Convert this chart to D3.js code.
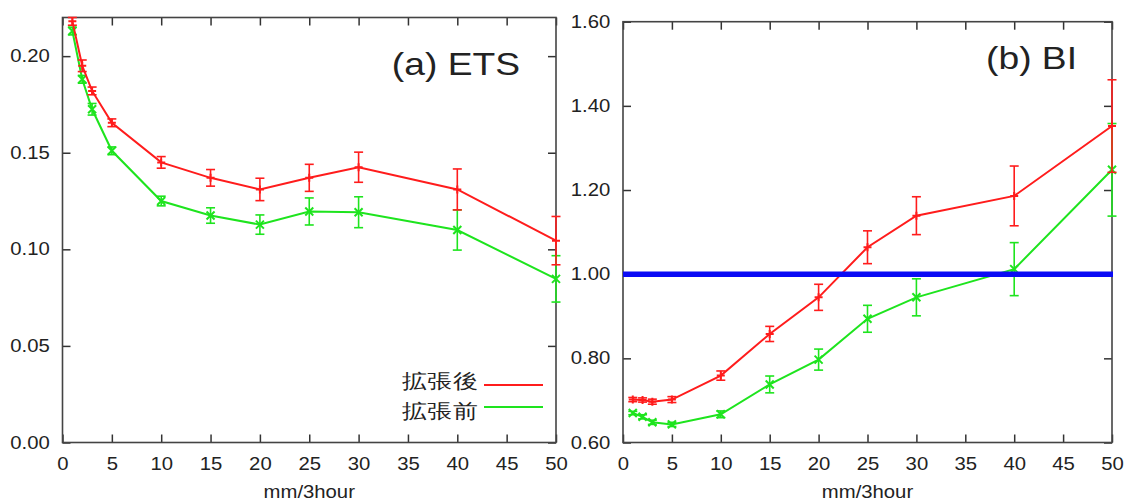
<!DOCTYPE html>
<html>
<head>
<meta charset="utf-8">
<script src="https://cdn.jsdelivr.net/npm/d3@7"></script>
<style>
  body { margin: 0; background: #fff; }
  text { font-family: "Liberation Sans", Arial, sans-serif; fill: #222; }
</style>
</head>
<body>
<div id="chart"></div>
<script>
// rain thresholds (mm/3hour)
var xValues = [1, 2, 3, 5, 10, 15, 20, 25, 30, 40, 50];

// (a) ETS
var etsAfter     = [0.218, 0.195, 0.182, 0.1655, 0.145, 0.137, 0.131, 0.137, 0.1425, 0.131, 0.1045];
var etsAfterErr  = [0.002, 0.003, 0.002, 0.002, 0.003, 0.0043, 0.0058, 0.007, 0.0078, 0.0106, 0.0125];
var etsBefore    = [0.213, 0.188, 0.1725, 0.151, 0.125, 0.1175, 0.1128, 0.1196, 0.1192, 0.110, 0.0847];
var etsBeforeErr = [0.002, 0.002, 0.003, 0.002, 0.0025, 0.004, 0.005, 0.007, 0.008, 0.0104, 0.012];

// (b) BI
var biAfter     = [0.702, 0.701, 0.697, 0.702, 0.759, 0.858, 0.945, 1.064, 1.139, 1.186, 1.352];
var biAfterErr  = [0.005, 0.005, 0.006, 0.007, 0.011, 0.018, 0.031, 0.039, 0.045, 0.071, 0.11];
var biBefore    = [0.670, 0.661, 0.648, 0.643, 0.667, 0.738, 0.797, 0.894, 0.945, 1.012, 1.248];
var biBeforeErr = [0.004, 0.005, 0.005, 0.005, 0.008, 0.02, 0.025, 0.032, 0.044, 0.063, 0.11];

var xTicks = [0, 5, 10, 15, 20, 25, 30, 35, 40, 45, 50];
var etsTicks = [0, 0.05, 0.10, 0.15, 0.20];
var biTicks = [0.6, 0.8, 1.0, 1.2, 1.4, 1.6];

var seriesNames = ['拡張後', '拡張前'];
var seriesColors = ['#ff1c1c', '#1ee41e'];
var xLabel = 'mm/3hour';

var STRETCH = 1.16; // the original picture is a bit wider than tall

var svg = d3.select('#chart').append('svg')
  .attr('width', 1131).attr('height', 502);

var panels = [
  { title: '(a) ETS', xr: [62.5, 556], yd: [0, 0.22], yr: [442.5, 17.5], ticks: etsTicks,
    series: [[etsAfter, etsAfterErr], [etsBefore, etsBeforeErr]],
    titlePos: [520, 75], refLine: null, legend: true },
  { title: '(b) BI', xr: [623, 1112], yd: [0.6, 1.6], yr: [442.5, 21.7], ticks: biTicks,
    series: [[biAfter, biAfterErr], [biBefore, biBeforeErr]],
    titlePos: [1077, 69], refLine: 1.0, legend: false }
];

var stretchText = function(sel, k) {
  sel.attr('transform', function() {
    var t = d3.select(this).attr('transform') || '';
    return t + ' scale(' + (k || STRETCH) + ',1)';
  });
};

panels.forEach(function(p) {
  var x = d3.scaleLinear().domain([0, 50]).range(p.xr),
      y = d3.scaleLinear().domain(p.yd).range(p.yr);
  var g = svg.append('g');

  // inward ticks on all four sides
  var bottom = g.append('g').attr('transform', 'translate(0,' + p.yr[0] + ')')
    .call(d3.axisBottom(x).tickValues(xTicks).tickSize(-8).tickSizeOuter(0).tickPadding(15).tickFormat(d3.format('d')));
  var left = g.append('g').attr('transform', 'translate(' + p.xr[0] + ',0)')
    .call(d3.axisLeft(y).tickValues(p.ticks).tickSize(-8).tickSizeOuter(0).tickPadding(11).tickFormat(d3.format('.2f')));
  g.append('g').attr('transform', 'translate(0,' + p.yr[1] + ')')
    .call(d3.axisTop(x).tickValues(xTicks).tickSize(-8).tickSizeOuter(0).tickFormat(''));
  g.append('g').attr('transform', 'translate(' + p.xr[1] + ',0)')
    .call(d3.axisRight(y).tickValues(p.ticks).tickSize(-8).tickSizeOuter(0).tickFormat(''));

  g.selectAll('.domain').remove();
  g.selectAll('.tick line').attr('stroke', '#333').attr('stroke-width', 1.5);
  [bottom, left].forEach(function(a) {
    a.selectAll('text').attr('font-size', 17.5).attr('fill', '#222')
      .attr('font-family', '"Liberation Sans", Arial, sans-serif');
    a.selectAll('text').attr('transform', 'scale(' + STRETCH + ',1)');
  });

  // frame
  g.append('rect')
    .attr('x', p.xr[0]).attr('y', p.yr[1])
    .attr('width', p.xr[1] - p.xr[0]).attr('height', p.yr[0] - p.yr[1])
    .attr('fill', 'none').attr('stroke', '#444').attr('stroke-width', 1.6);

  // x axis title
  g.append('text')
    .attr('transform', 'translate(' + ((p.xr[0] + p.xr[1]) / 2) + ',498) scale(' + STRETCH + ',1)')
    .attr('text-anchor', 'middle').attr('font-size', 17.5)
    .text(xLabel);

  // panel title
  g.append('text')
    .attr('transform', 'translate(' + p.titlePos[0] + ',' + p.titlePos[1] + ') scale(1.2,1)')
    .attr('text-anchor', 'end').attr('font-size', 31).attr('fill', '#111')
    .text(p.title);

  // series, drawn back to front so red stays on top
  var line = d3.line().x(function(d) { return x(d.x); }).y(function(d) { return y(d.v); });
  p.series.slice().reverse().forEach(function(s, ri) {
    var si = p.series.length - 1 - ri,
        color = seriesColors[si];
    var pts = xValues.map(function(xv, i) { return { x: xv, v: s[0][i], e: s[1][i] }; });
    var sg = g.append('g');

    sg.append('path').datum(pts)
      .attr('d', line).attr('fill', 'none')
      .attr('stroke', color).attr('stroke-width', 2);

    var eb = sg.selectAll('g.err').data(pts).enter().append('g').attr('class', 'err')
      .attr('stroke', color).attr('stroke-width', 1.6);
    eb.append('line')
      .attr('x1', function(d) { return x(d.x); }).attr('x2', function(d) { return x(d.x); })
      .attr('y1', function(d) { return y(d.v - d.e); }).attr('y2', function(d) { return y(d.v + d.e); });
    [-1, 1].forEach(function(sgn) {
      eb.append('line')
        .attr('x1', function(d) { return x(d.x) - 4.5; }).attr('x2', function(d) { return x(d.x) + 4.5; })
        .attr('y1', function(d) { return y(d.v + sgn * d.e); }).attr('y2', function(d) { return y(d.v + sgn * d.e); });
    });
    // markers: "+" for red, "x" for green (gnuplot style)
    eb.append('path')
      .attr('d', function(d) {
        var cx = x(d.x), cy = y(d.v), r = 4;
        if (si === 0) return 'M' + (cx - r) + ',' + cy + 'H' + (cx + r) + 'M' + cx + ',' + (cy - r) + 'V' + (cy + r);
        return 'M' + (cx - r) + ',' + (cy - r) + 'L' + (cx + r) + ',' + (cy + r) +
               'M' + (cx - r) + ',' + (cy + r) + 'L' + (cx + r) + ',' + (cy - r);
      })
      .attr('stroke-width', 2);
  });

  if (p.refLine !== null) {
    g.append('line')
      .attr('x1', p.xr[0]).attr('x2', p.xr[1] + 1)
      .attr('y1', y(p.refLine)).attr('y2', y(p.refLine))
      .attr('stroke', '#0a0af5').attr('stroke-width', 5.5);
  }

  if (p.legend) {
    var lg = g.append('g');
    var legendY = [[381, 385], [411, 407]];
    seriesNames.forEach(function(name, i) {
      lg.append('text')
        .attr('transform', 'translate(478,' + legendY[i][0] + ') scale(1.25,1)')
        .attr('text-anchor', 'end').attr('dominant-baseline', 'central')
        .attr('font-family', '"Noto Sans CJK JP", sans-serif')
        .attr('font-size', 20).attr('fill', '#111')
        .text(name);
      lg.append('line')
        .attr('x1', 484).attr('x2', 543)
        .attr('y1', legendY[i][1]).attr('y2', legendY[i][1])
        .attr('stroke', seriesColors[i]).attr('stroke-width', 2);
    });
  }
});
</script>
</body>
</html>
